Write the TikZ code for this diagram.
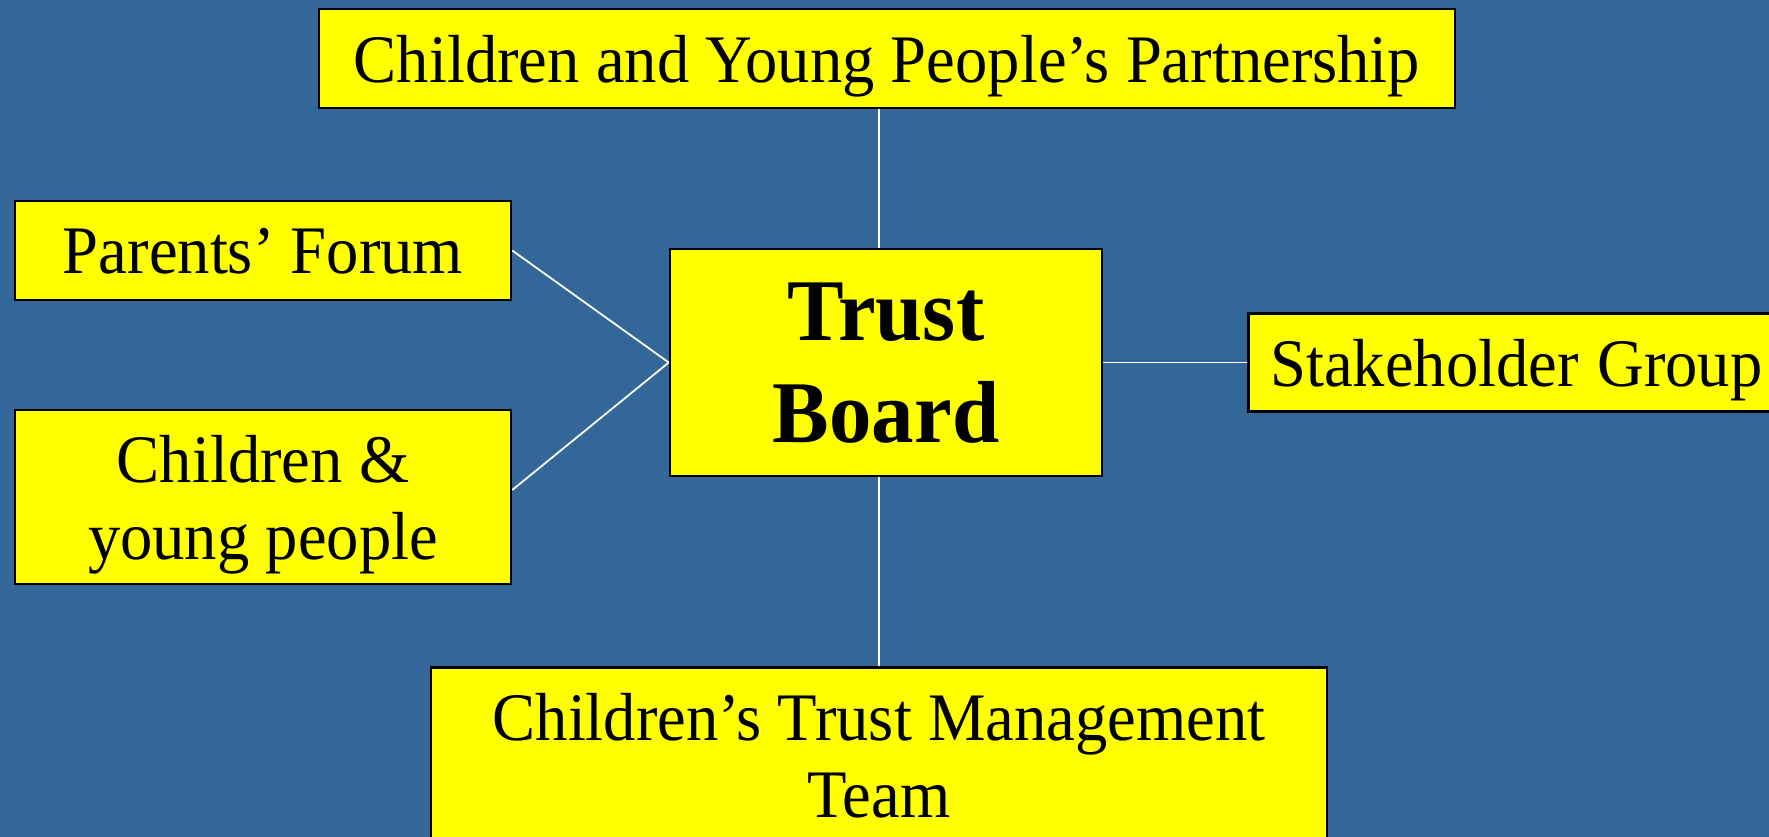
\documentclass[tikz,border=0pt]{standalone}
\usepackage{fontspec}
\setmainfont[FakeStretch=0.95]{Liberation Serif}
\newfontfamily\boardfont[FakeStretch=0.965]{Liberation Serif}
\definecolor{bgblue}{HTML}{336699}
\definecolor{boxyellow}{HTML}{FFFF00}
\begin{document}
\begin{tikzpicture}[x=1pt,y=1pt,
  box/.style={draw=black, line width=2.5pt, fill=boxyellow, rectangle, align=center, inner sep=0pt,
    text depth=0pt, font=\fontsize{68}{77}\selectfont},
  link/.style={draw=white, line width=1.8pt}]
\useasboundingbox (0,0) rectangle (1769,-837);
\fill[bgblue] (0,0) rectangle (1769,-837);
\begin{scope}
\clip (0,0) rectangle (1769,-837);
\node[box, minimum width=1136, minimum height=99] (top) at (887,-58.5) {Children and Young People’s Partnership};
\node[box, minimum width=496, minimum height=99] (parents) at (263,-250.5) {Parents’ Forum};
\node[box, minimum width=496, minimum height=174] (kids) at (263,-497) {Children \&\\young people};
\node[box, minimum width=432, minimum height=227, font=\boardfont\fontsize{88}{102}\selectfont\bfseries] (trust) at (886,-362.5) {Trust\\Board};
\node[box, anchor=west, minimum height=98, text width=540, inner xsep=22, align=left] (stake) at (1247,-362.5) {Stakeholder\hspace{-4pt} Group};
\node[box, anchor=north, minimum width=896, inner ysep=26] (cmt) at (879,-666) {Children’s Trust Management\\Team};
\coordinate (lx) at (879,0);
\draw[link] (trust.north -| lx) -- (top.south -| lx);
\draw[link] (trust.south -| lx) -- (cmt.north -| lx);
\draw[link] (parents.east) -- (trust.west);
\draw[link] ([yshift=7]kids.east) -- (trust.west);
\draw[link] (trust.east) -- (stake.west);
\end{scope}
\end{tikzpicture}
\end{document}
